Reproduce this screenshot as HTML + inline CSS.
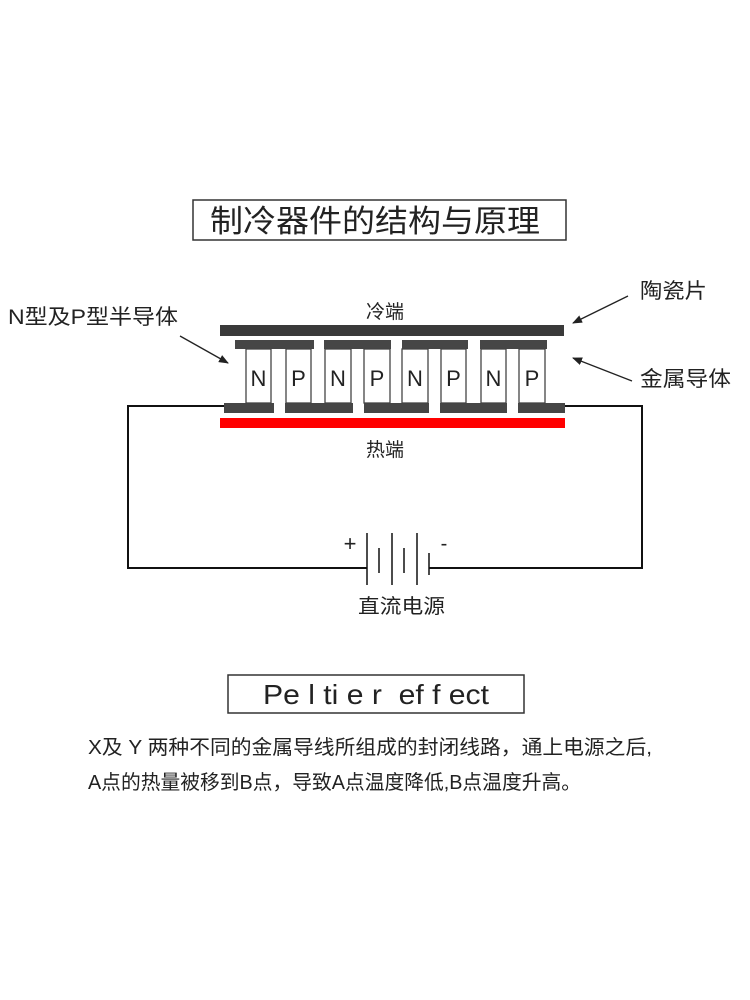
<!DOCTYPE html>
<html><head><meta charset="utf-8"><style>
html,body{margin:0;padding:0;background:#fff;}
svg{display:block;}
text{font-family:"Liberation Sans","Noto Sans CJK SC",sans-serif;fill:#222;}
</style></head><body>
<svg width="750" height="1000" viewBox="0 0 750 1000" xmlns="http://www.w3.org/2000/svg">
<defs><marker id="ah" markerWidth="10" markerHeight="8" refX="9" refY="4" orient="auto" markerUnits="userSpaceOnUse"><path d="M0,0 L10,4 L0,8 Z" fill="#222"/></marker></defs>
<rect x="193" y="200" width="373" height="40" fill="none" stroke="#333" stroke-width="1.5"/>
<text x="210" y="232" font-size="31" textLength="330" lengthAdjust="spacingAndGlyphs">制冷器件的结构与原理</text>
<text x="385" y="318" font-size="19" text-anchor="middle">冷端</text>
<text x="8" y="324" font-size="21" textLength="170" lengthAdjust="spacingAndGlyphs">N型及P型半导体</text>
<text x="640" y="298" font-size="21" textLength="67" lengthAdjust="spacingAndGlyphs">陶瓷片</text>
<text x="640" y="386" font-size="21" textLength="91" lengthAdjust="spacingAndGlyphs">金属导体</text>
<line x1="180" y1="336" x2="228" y2="363" stroke="#222" stroke-width="1.3" marker-end="url(#ah)"/>
<line x1="628" y1="296" x2="573" y2="323" stroke="#222" stroke-width="1.3" marker-end="url(#ah)"/>
<line x1="632" y1="381" x2="573" y2="358" stroke="#222" stroke-width="1.3" marker-end="url(#ah)"/>
<rect x="220" y="325" width="344" height="11" fill="#3a3a3a"/>
<g fill="#464646">
<rect x="235" y="340" width="79" height="9"/><rect x="324" y="340" width="67" height="9"/><rect x="402" y="340" width="66" height="9"/><rect x="480" y="340" width="67" height="9"/>
<rect x="224" y="403" width="50" height="10"/><rect x="285" y="403" width="68" height="10"/><rect x="364" y="403" width="65" height="10"/><rect x="440" y="403" width="67" height="10"/><rect x="518" y="403" width="47" height="10"/>
</g>
<g fill="#fff" stroke="#444" stroke-width="1.3">
<rect x="246" y="349" width="25" height="54"/><rect x="286" y="349" width="25" height="54"/><rect x="325" y="349" width="26" height="54"/><rect x="364" y="349" width="26" height="54"/><rect x="402" y="349" width="26" height="54"/><rect x="441" y="349" width="25" height="54"/><rect x="481" y="349" width="25" height="54"/><rect x="519" y="349" width="26" height="54"/>
</g>
<g font-size="22" text-anchor="middle">
<text x="258.5" y="386">N</text><text x="298.5" y="386">P</text><text x="338" y="386">N</text><text x="377" y="386">P</text><text x="415" y="386">N</text><text x="453.5" y="386">P</text><text x="493.5" y="386">N</text><text x="532" y="386">P</text>
</g>
<rect x="220" y="418" width="345" height="10" fill="#f00"/>
<text x="385" y="456" font-size="19" text-anchor="middle">热端</text>
<polyline points="224,406 128,406 128,568 367,568" fill="none" stroke="#111" stroke-width="2"/>
<polyline points="565,406 642,406 642,568 429,568" fill="none" stroke="#111" stroke-width="2"/>
<g stroke="#111" stroke-width="1.5">
<line x1="367" y1="533" x2="367" y2="585"/><line x1="379" y1="548" x2="379" y2="573"/><line x1="392" y1="533" x2="392" y2="585"/><line x1="404" y1="548" x2="404" y2="573"/><line x1="417" y1="533" x2="417" y2="585"/><line x1="429" y1="553" x2="429" y2="575"/>
</g>
<text x="350" y="551" font-size="22" text-anchor="middle">+</text>
<text x="444" y="550" font-size="20" text-anchor="middle">-</text>
<text x="358" y="613" font-size="20" textLength="87" lengthAdjust="spacingAndGlyphs">直流电源</text>
<rect x="228" y="675" width="296" height="38" fill="none" stroke="#333" stroke-width="1.5"/>
<text x="263" y="704" font-size="28" textLength="226" lengthAdjust="spacingAndGlyphs" xml:space="preserve">Pe l ti e r  ef f ect</text>
<text x="88" y="754" font-size="20" textLength="564" lengthAdjust="spacingAndGlyphs">X及 Y 两种不同的金属导线所组成的封闭线路，通上电源之后,</text>
<text x="88" y="789" font-size="20" textLength="493" lengthAdjust="spacingAndGlyphs">A点的热量被移到B点，导致A点温度降低,B点温度升高。</text>
</svg>
</body></html>
